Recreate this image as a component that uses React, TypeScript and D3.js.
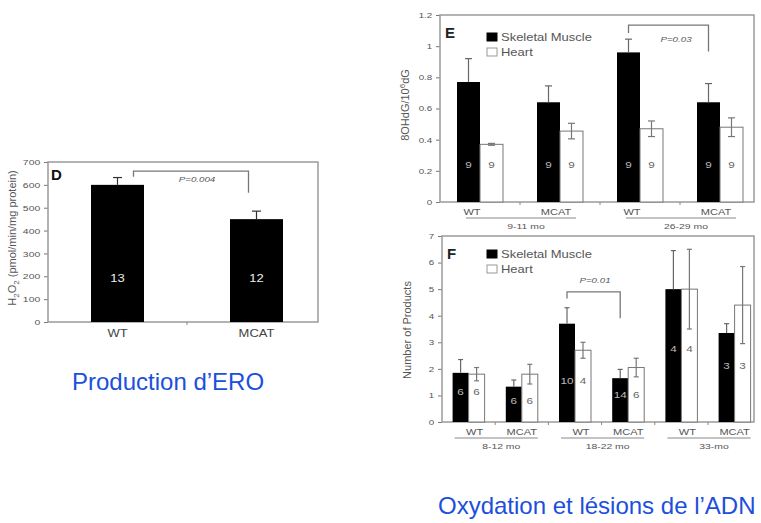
import { useEffect, useRef } from "react";
import * as d3 from "d3";

const FONT = "'Liberation Sans', Arial, Helvetica, sans-serif";
const STRETCH = 1.3; // the pasted figures are wider than tall
const BLUE = "#1c4fdc";

// Panel D - H2O2 production
const dCats = ["WT", "MCAT"];
const dValues = [600, 450];
const dErrors = [32, 35];
const dN = ["13", "12"];
const dNPos = 175;
const dTicks = [0, 100, 200, 300, 400, 500, 600, 700];
const dBracket = { top: 660, left: 635, right: 565, label: "P=0.004" };

// Panel E - 8OHdG
const eCats = ["WT", "MCAT", "WT", "MCAT"];
const eAges = ["9-11 mo", "26-29 mo"];
const eMuscle = [0.77, 0.64, 0.96, 0.64];
const eMuscleErr = [0.15, 0.105, 0.085, 0.12];
const eHeart = [0.37, 0.455, 0.47, 0.48];
const eHeartErr = [0.006, 0.05, 0.05, 0.06];
const eN = ["9", "9", "9", "9"];
const eNPos = 0.24;
const eTicks = [0, 0.2, 0.4, 0.6, 0.8, 1, 1.2];
const eBracket = { from: 2, to: 3, top: 1.135, left: 1.085, right: 0.965, label: "P=0.03" };

// Panel F - number of products
const fCats = ["WT", "MCAT", "WT", "MCAT", "WT", "MCAT"];
const fAges = ["8-12 mo", "18-22 mo", "33-mo"];
const fMuscle = [1.85, 1.33, 3.7, 1.65, 5.0, 3.35];
const fMuscleErr = [0.5, 0.25, 0.6, 0.33, 1.45, 0.35];
const fHeart = [1.8, 1.8, 2.7, 2.05, 5.0, 4.4];
const fHeartErr = [0.25, 0.37, 0.3, 0.35, 1.5, 1.45];
const fMuscleN = ["6", "6", "10", "14", "4", "3"];
const fHeartN = ["6", "6", "4", "6", "4", "3"];
const fNPos = [1.15, 0.8, 1.57, 1.02, 2.77, 2.12];
const fTicks = [0, 1, 2, 3, 4, 5, 6, 7];
const fBracket = { from: 2, to: 3, top: 4.9, left: 4.65, right: 3.9, label: "P=0.01" };

const legendItems = ["Skeletal Muscle", "Heart"];

const App = () => {
    const svgRef = useRef(null);

    const stretchedText = (g, x, y, str, size, anchor = "middle", fill = "#444", weight = "normal") => {
        return g.append("text")
            .attr("transform", `translate(${x},${y}) scale(${STRETCH},1)`)
            .attr("text-anchor", anchor)
            .style("font-family", FONT)
            .style("font-size", `${size}px`)
            .style("font-weight", weight)
            .attr("fill", fill)
            .text(str);
    };

    const drawFrame = (svg, box, y, ticks, fmt, nGroups, band) => {
        const axis = d3.axisLeft(y).tickValues(ticks).tickSize(4).tickPadding(2).tickFormat(fmt);
        const ag = svg.append("g").attr("transform", `translate(${box.left},0)`).call(axis);
        ag.select(".domain").remove();
        ag.selectAll("line").attr("stroke", "#777");
        ag.selectAll("text")
            .attr("fill", "#555")
            .style("font-family", FONT)
            .style("font-size", `${box.tickSize}px`)
            .attr("transform", `scale(${STRETCH},1)`);

        svg.append("rect")
            .attr("x", box.left).attr("y", box.top)
            .attr("width", box.right - box.left).attr("height", box.bottom - box.top)
            .attr("fill", "none").attr("stroke", "#9a9a9a").attr("stroke-width", 1.5);

        // small ticks between groups on the bottom axis
        for (let i = 1; i < nGroups; i++) {
            const bx = band.range()[0] + band.step() * i;
            if (bx < box.right) {
                svg.append("line")
                    .attr("x1", bx).attr("x2", bx)
                    .attr("y1", box.bottom).attr("y2", box.bottom + 3)
                    .attr("stroke", "#888");
            }
        }
    };

    const errorBar = (g, cx, y, v, e, cap, color, both) => {
        const top = y(v + e);
        const bot = both ? y(v - e) : y(v);
        g.append("line").attr("x1", cx).attr("x2", cx).attr("y1", top).attr("y2", bot)
            .attr("stroke", color).attr("stroke-width", 1.2);
        g.append("line").attr("x1", cx - cap / 2).attr("x2", cx + cap / 2).attr("y1", top).attr("y2", top)
            .attr("stroke", color).attr("stroke-width", 1.2);
        if (both) {
            g.append("line").attr("x1", cx - cap / 2).attr("x2", cx + cap / 2).attr("y1", bot).attr("y2", bot)
                .attr("stroke", color).attr("stroke-width", 1.2);
        }
    };

    const bracket = (g, x1, x2, y, b, labelX, labelY, size) => {
        g.append("path")
            .attr("d", `M${x1},${y(b.left)}V${y(b.top)}H${x2}V${y(b.right)}`)
            .attr("fill", "none").attr("stroke", "#777").attr("stroke-width", 1.3);
        stretchedText(g, labelX, labelY, b.label, size, "middle", "#555").style("font-style", "italic");
    };

    const legend = (g, x, y0) => {
        legendItems.forEach((name, i) => {
            const yy = y0 + i * 15;
            g.append("rect").attr("x", x).attr("y", yy - 4).attr("width", 10).attr("height", 8)
                .attr("fill", i === 0 ? "#000" : "#fff").attr("stroke", i === 0 ? "#000" : "#999");
            stretchedText(g, x + 14, yy + 3.5, name, 10, "start", "#555");
        });
    };

    const drawD = (svg) => {
        const box = { left: 48, right: 318, top: 162, bottom: 322, tickSize: 8 };
        const y = d3.scaleLinear([0, 700], [box.bottom, box.top]);
        const x = d3.scaleBand(dCats.map((d, i) => i), [box.left, box.left + 278]);
        drawFrame(svg, box, y, dTicks, d3.format("d"), dCats.length, x);
        const g = svg.append("g");
        const bw = 53;
        g.selectAll("rect.bar").data(dValues).join("rect")
            .attr("class", "bar")
            .attr("x", (d, i) => x(i) + x.bandwidth() / 2 - bw / 2)
            .attr("y", (d) => y(d))
            .attr("width", bw)
            .attr("height", (d) => box.bottom - y(d))
            .attr("fill", "#000");
        dValues.forEach((v, i) => {
            const cx = x(i) + x.bandwidth() / 2;
            errorBar(g, cx, y, v, dErrors[i], 9, "#333", false);
            stretchedText(g, cx, y(dNPos), dN[i], 10, "middle", "#eee");
            stretchedText(g, cx, box.bottom + 15, dCats[i], 10, "middle", "#444");
        });
        const c0 = x(0) + x.bandwidth() / 2, c1 = x(1) + x.bandwidth() / 2;
        bracket(g, c0 + 16, c1 - 8, y, dBracket, (c0 + c1) / 2 + 10, y(dBracket.top) + 11, 7.5);
        g.append("text").attr("x", 51).attr("y", 180)
            .style("font-family", FONT).style("font-size", "15px").style("font-weight", "bold")
            .attr("fill", "#111").text("D");
        const yl = g.append("text")
            .attr("transform", `translate(16,${(box.top + box.bottom) / 2 - 4}) rotate(-90)`)
            .attr("text-anchor", "middle")
            .style("font-family", FONT).style("font-size", "11px").attr("fill", "#555");
        yl.append("tspan").text("H");
        yl.append("tspan").attr("dy", 3).style("font-size", "8px").text("2");
        yl.append("tspan").attr("dy", -3).text("O");
        yl.append("tspan").attr("dy", 3).style("font-size", "8px").text("2");
        yl.append("tspan").attr("dy", -3).text(" (pmol/min/mg protein)");
    };

    const drawGrouped = (svg, cfg) => {
        const { box, y, cats, ages, muscle, muscleErr, heart, heartErr, mN, hN, nPos, ticks, fmt, bw, cap, br, letter, labelDy, nSize } = cfg;
        const x = d3.scaleBand(cats.map((d, i) => i), [box.left, box.left + cfg.step * cats.length]);
        drawFrame(svg, box, y, ticks, fmt, cats.length, x);
        const g = svg.append("g");
        const cx = (i) => x(i) + x.bandwidth() / 2;
        g.selectAll("rect.muscle").data(muscle).join("rect")
            .attr("class", "muscle")
            .attr("x", (d, i) => cx(i) - bw)
            .attr("y", (d) => y(d))
            .attr("width", bw)
            .attr("height", (d) => box.bottom - y(d))
            .attr("fill", "#000");
        g.selectAll("rect.heart").data(heart).join("rect")
            .attr("class", "heart")
            .attr("x", (d, i) => cx(i))
            .attr("y", (d) => y(d))
            .attr("width", bw)
            .attr("height", (d) => box.bottom - y(d))
            .attr("fill", "#fff").attr("stroke", "#777").attr("stroke-width", 1);
        muscle.forEach((v, i) => {
            errorBar(g, cx(i) - bw / 2, y, v, muscleErr[i], cap, "#666", false);
            errorBar(g, cx(i) + bw / 2, y, heart[i], heartErr[i], cap, "#777", true);
            const p = Array.isArray(nPos) ? nPos[i] : nPos;
            stretchedText(g, cx(i) - bw / 2, y(p) + 3.5, mN[i], nSize, "middle", "#bbb");
            stretchedText(g, cx(i) + bw / 2, y(p) + 3.5, hN[i], nSize, "middle", "#666");
            stretchedText(g, cx(i) + cfg.catShift[i % 2], box.bottom + labelDy, cats[i], 8.5, "middle", "#555");
        });
        ages.forEach((a, k) => {
            const a0 = cx(2 * k), a1 = cx(2 * k + 1);
            g.append("line")
                .attr("x1", a0 - 14).attr("x2", a1 + 16)
                .attr("y1", box.bottom + labelDy + 3).attr("y2", box.bottom + labelDy + 3)
                .attr("stroke", "#888").attr("stroke-width", 1);
            stretchedText(g, (a0 + a1) / 2 + 6, box.bottom + labelDy + 14, a, 8, "middle", "#555");
        });
        bracket(g, cx(br.from) - bw / 2, cx(br.to) - bw / 2, y, br,
            cfg.brLabel.x, cfg.brLabel.y, 7.5);
        g.append("text").attr("x", box.left + 5).attr("y", box.top + 23)
            .style("font-family", FONT).style("font-size", "15px").style("font-weight", "bold")
            .attr("fill", "#222").text(letter);
        legend(g, 487, box.top + cfg.legendDy);
        const yl = g.append("text")
            .attr("transform", `translate(${cfg.ylabel.x},${cfg.ylabel.y}) rotate(-90)`)
            .attr("text-anchor", "middle")
            .style("font-family", FONT).style("font-size", "11px").attr("fill", "#555");
        cfg.ylabel.parts.forEach((p) => {
            const t = yl.append("tspan").text(p.t);
            if (p.sup) t.attr("dy", -4).style("font-size", "8px");
            if (p.after) t.attr("dy", 4);
        });
    };

    useEffect(() => {
        const svg = d3.select(svgRef.current);
        svg.selectAll("*").remove();
        svg.attr("viewBox", [0, 0, 761, 523]).style("background", "#fff");

        drawD(svg);

        const eBox = { left: 440, right: 754, top: 15, bottom: 202, tickSize: 7.5 };
        drawGrouped(svg, {
            box: eBox, y: d3.scaleLinear([0, 1.2], [eBox.bottom, eBox.top]), step: 80,
            cats: eCats, ages: eAges, muscle: eMuscle, muscleErr: eMuscleErr, heart: eHeart, heartErr: eHeartErr,
            mN: eN, hN: eN, nPos: eNPos, ticks: eTicks, fmt: d3.format("~g"), bw: 23, cap: 7,
            br: eBracket, brLabel: { x: 676, y: 42 }, letter: "E", labelDy: 13, nSize: 9,
            catShift: [-8, -4], legendDy: 22,
            ylabel: { x: 409, y: 105, parts: [{ t: "8OHdG/10" }, { t: "6", sup: true }, { t: "dG", after: true }] },
        });

        const fBox = { left: 442, right: 754, top: 236, bottom: 422, tickSize: 7.5 };
        drawGrouped(svg, {
            box: fBox, y: d3.scaleLinear([0, 7], [fBox.bottom, fBox.top]), step: 53.2,
            cats: fCats, ages: fAges, muscle: fMuscle, muscleErr: fMuscleErr, heart: fHeart, heartErr: fHeartErr,
            mN: fMuscleN, hN: fHeartN, nPos: fNPos, ticks: fTicks, fmt: d3.format("d"), bw: 16, cap: 5,
            br: fBracket, brLabel: { x: 595, y: 283 }, letter: "F", labelDy: 13, nSize: 9,
            catShift: [6, 0], legendDy: 18,
            ylabel: { x: 411, y: 330, parts: [{ t: "Number of Products" }] },
        });

        svg.append("text").attr("x", 72).attr("y", 390)
            .style("font-family", FONT).style("font-size", "24px").attr("fill", BLUE)
            .text("Production d\u2019ERO");
        svg.append("text").attr("x", 438).attr("y", 514)
            .style("font-family", FONT).style("font-size", "24px").attr("fill", BLUE)
            .text("Oxydation et l\u00e9sions de l\u2019ADN");
    }, []);

    return <svg ref={svgRef} width={761} height={523}
        style={{ position: "absolute", left: 0, top: 0, display: "block" }}></svg>;
};

export default App;
